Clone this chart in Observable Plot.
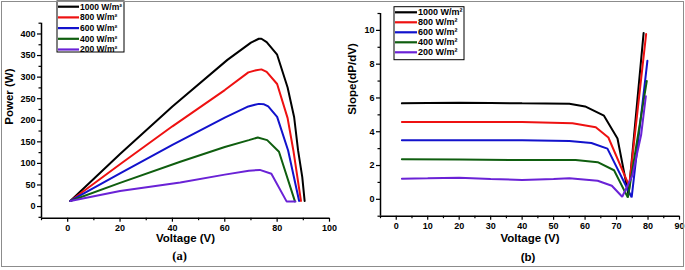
<!DOCTYPE html>
<html>
<head>
<meta charset="utf-8">
<script src="https://cdn.jsdelivr.net/npm/d3@7"></script>
<script src="https://cdn.jsdelivr.net/npm/@observablehq/plot@0.6"></script>
<style>
  body { margin: 0; background: #fff; }
  #wrap { position: relative; width: 685px; height: 270px; overflow: hidden; background: #fff; }
  #pa { position: absolute; left: 0; top: 0; }
  #pb { position: absolute; left: 340px; top: 0; }
  #frame { position: absolute; left: 1px; top: 1px; width: 681px; height: 264px; border: 1.5px solid #8c8c8c; pointer-events: none; }
</style>
</head>
<body>
<div id="wrap"><div id="pa"></div><div id="pb"></div><div id="frame"></div></div>
<script>
// ---------- data ----------
const seriesNames = ["1000 W/m²", "800 W/m²", "600 W/m²", "400 W/m²", "200 W/m²"];
const seriesColors = ["#000000", "#ee1111", "#1212cc", "#0f5e0f", "#6a22d6"];

// (a) Power vs Voltage
const pV1000 = [1, 20, 40, 61, 70, 73, 74, 76, 80, 84, 86.5, 88, 89.6, 90.5];
const pP1000 = [13, 122, 232, 340, 380, 389, 389, 381, 352, 276, 207, 130, 68, 13];
const pV800  = [1, 20, 40, 60, 69, 72, 74, 76, 80, 84, 86.2, 89.1];
const pP800  = [13, 98, 186, 270, 311, 316, 318, 312, 284, 205, 130, 13];
const pV600  = [1, 20, 40, 60, 69, 71.5, 73, 75, 76.6, 80, 84.2, 88.4];
const pP600  = [13, 77, 143, 206, 232, 236, 238, 237, 232, 208, 130, 13];
const pV400  = [1, 20, 43, 60, 69.2, 72.6, 76.2, 80.7, 86.8];
const pP400  = [13, 55, 104, 138, 154, 160, 154, 127, 12];
const pV200  = [1, 20, 43, 60, 69.2, 73.4, 77.8, 83.6, 87];
const pP200  = [13, 36, 56, 74, 83, 85, 76, 12, 12];

// (b) Slope dP/dV vs Voltage
const sV1000 = [1.8, 10, 20, 30, 40, 55, 60, 66, 70.3, 73.8, 78.6];
const sS1000 = [5.68, 5.7, 5.72, 5.7, 5.68, 5.66, 5.5, 4.95, 3.6, 0.25, 9.85];
const sV800  = [1.8, 20, 40, 56, 63.4, 67.4, 74, 79.4];
const sS800  = [4.57, 4.58, 4.57, 4.5, 4.27, 3.66, 0.8, 9.78];
const sV600  = [1.8, 20, 40, 55, 62, 67.1, 74.8, 79.8];
const sS600  = [3.5, 3.5, 3.5, 3.45, 3.33, 3.0, 0.12, 8.2];
const sV400  = [1.8, 20, 40, 57, 64, 69.2, 73.6, 79.6];
const sS400  = [2.37, 2.35, 2.33, 2.32, 2.2, 1.72, 0.1, 7.0];
const sV200  = [1.8, 10, 20, 30, 40, 50, 55, 64, 68.5, 71.8, 75, 77.8, 79.3];
const sS200  = [1.22, 1.24, 1.27, 1.2, 1.15, 1.2, 1.24, 1.1, 0.8, 0.15, 1.4, 3.8, 6.1];

// ticks
const aXTicks = [0, 20, 40, 60, 80, 100];
const aXMinor = [-10, 10, 30, 50, 70, 90];
const aYTicks = [0, 50, 100, 150, 200, 250, 300, 350, 400];
const aYMinor = [-25, 25, 75, 125, 175, 225, 275, 325, 375, 425];
const bXTicks = [0, 10, 20, 30, 40, 50, 60, 70, 80, 90];
const bXMinor = [-5, 5, 15, 25, 35, 45, 55, 65, 75, 85];
const bYTicks = [0, 2, 4, 6, 8, 10];
const bYMinor = [-1, 1, 3, 5, 7, 9, 11];

// ---------- build tables ----------
function table(vs, ys) {
  const out = [];
  vs.forEach((v, k) => v.forEach((x, i) => out.push({series: seriesNames[k], x, y: ys[k][i]})));
  return out;
}
const dataA = table([pV1000, pV800, pV600, pV400, pV200], [pP1000, pP800, pP600, pP400, pP200]);
const dataB = table([sV1000, sV800, sV600, sV400, sV200], [sS1000, sS800, sS600, sS400, sS200]);

const font = "'Liberation Sans', Arial, sans-serif";

function makePanel(o) {
  const svg = Plot.plot({
    width: o.width, height: 270,
    marginLeft: o.ml, marginRight: o.mr, marginTop: o.mt, marginBottom: o.mb,
    x: {domain: o.xd}, y: {domain: o.yd},
    color: {domain: seriesNames, range: seriesColors},
    style: {background: "transparent", fontFamily: font, color: "#000", overflow: "visible"},
    marks: [
      Plot.axisX(o.xt, {tickSize: 4, tickPadding: 2, fontSize: 9, fontWeight: "bold", label: null, strokeWidth: 1.2}),
      Plot.axisX(o.xm, {tickSize: 2.5, text: null, label: null, strokeWidth: 1.2}),
      Plot.axisY(o.yt, {tickSize: 4, tickPadding: 2, fontSize: 9, fontWeight: "bold", label: null, strokeWidth: 1.2}),
      Plot.axisY(o.ym, {tickSize: 2.5, text: null, label: null, strokeWidth: 1.2}),
      Plot.ruleX([o.xd[0]], {strokeWidth: 1.5}),
      Plot.ruleY([o.yd[0]], {strokeWidth: 1.5}),
      Plot.line(o.data, {x: "x", y: "y", z: "series", stroke: "series", strokeWidth: 2, strokeLinejoin: "miter", curve: "linear"}),
      Plot.text([o.xlabel], {frameAnchor: "bottom", dy: o.xldy, fontSize: 11.5, fontWeight: "bold"}),
      Plot.text([o.tag], {frameAnchor: "bottom", dy: o.tagdy, dx: o.tagdx, fontSize: o.tagSize, fontWeight: "bold", fontFamily: o.tagFont}),
      Plot.text([o.ylabel], {frameAnchor: "left", dx: o.yldx, dy: o.yldy, rotate: -90, fontSize: 11.5, fontWeight: "bold"})
    ]
  });
  // legend
  const g = d3.select(svg).append("g").attr("text-anchor", "start");
  const L = o.legend;
  g.append("rect").attr("x", L.x).attr("y", L.y).attr("width", L.w).attr("height", L.h)
    .attr("fill", "#fff").attr("stroke", "#000").attr("stroke-width", 1);
  seriesNames.forEach((name, i) => {
    const yy = L.r0 + i * L.dr;
    g.append("line").attr("x1", L.x + 1).attr("x2", L.x + L.sw).attr("y1", yy).attr("y2", yy)
      .attr("stroke", seriesColors[i]).attr("stroke-width", 2.2);
    g.append("text").attr("x", L.x + L.sw + 1).attr("y", yy).attr("dy", "0.35em")
      .attr("text-anchor", "start")
      .attr("font-family", font).attr("font-weight", "bold").attr("font-size", L.fs).attr("fill", "#000")
      .text(name);
  });
  return svg;
}

document.getElementById("pa").appendChild(makePanel({
  width: 340, ml: 41, mr: 11, mt: 22.7, mb: 52.3,
  xd: [-10, 100], yd: [-27, 425],
  xt: aXTicks, xm: aXMinor, yt: aYTicks, ym: aYMinor,
  data: dataA,
  xlabel: "Voltage (V)", xldy: 24,
  tag: "(a)", tagdy: 41.5, tagdx: -6, tagSize: 12.5, tagFont: "'Liberation Serif', 'Times New Roman', serif",
  ylabel: "Power (W)", yldx: -32.5, yldy: 4,
  legend: {x: 57, y: 1, w: 67, h: 51, r0: 6.7, dr: 10.7, sw: 22, fs: 8.5}
}));

document.getElementById("pb").appendChild(makePanel({
  width: 345, ml: 40, mr: 6, mt: 13, mb: 54.3,
  xd: [-5, 90], yd: [-1, 11],
  xt: bXTicks, xm: bXMinor, yt: bYTicks, ym: bYMinor,
  data: dataB,
  xlabel: "Voltage (V)", xldy: 25.5,
  tag: "(b)", tagdy: 45, tagdx: -2, tagSize: 11.5, tagFont: font,
  ylabel: "Slope(dP/dV)", yldx: -28, yldy: 0,
  legend: {x: 54, y: 6.7, w: 70, h: 53, r0: 12.3, dr: 10, sw: 23, fs: 9}
}));
</script>
</body>
</html>
